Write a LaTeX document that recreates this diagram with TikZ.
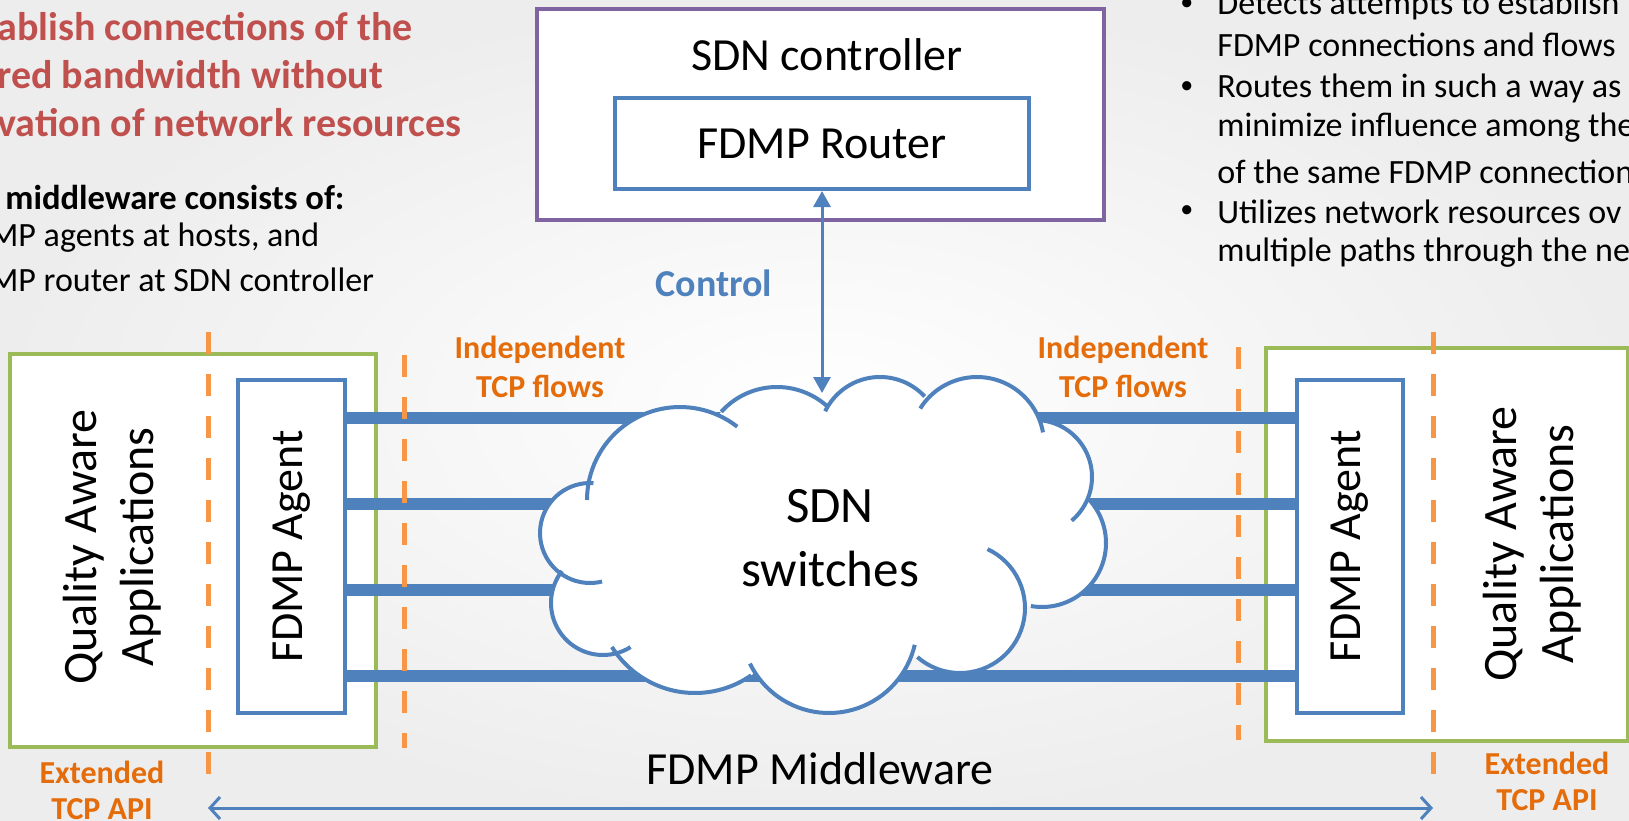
\documentclass[tikz,border=0pt]{standalone}
\usepackage{fontspec}
\setmainfont{Carlito}
\usetikzlibrary{arrows.meta, positioning, calc}
\definecolor{fdBlue}{HTML}{4F81BD}
\definecolor{fdGreen}{HTML}{9BBB59}
\definecolor{fdPurple}{HTML}{8064A2}
\definecolor{fdDash}{HTML}{F79646}
\definecolor{fdTag}{HTML}{E46C0A}
\definecolor{fdRed}{HTML}{C0504D}

\begin{document}
\begin{tikzpicture}[x=0.5pt, y=-0.5pt,
    agentbox/.style={draw=fdBlue, line width=2pt, fill=white, inner sep=0pt},
    hostbox/.style={draw=fdGreen, line width=2pt, fill=white, inner sep=0pt},
    apiline/.style={draw=fdDash, line width=2.5pt, dash pattern=on 11pt off 10pt},
    flow/.style={draw=fdBlue, line width=6pt},
    puff/.style={draw=fdBlue, line width=2pt},
    tag/.style={font=\fontsize{16}{19.5}\selectfont\bfseries, text=fdTag, align=center},
    big/.style={font=\fontsize{23}{28.5}\selectfont, align=center},
    note/.style={font=\fontsize{17}{20}\selectfont, anchor=west, inner sep=0pt}]
  \useasboundingbox (0,0) rectangle (1629,820);
  \clip (0,0) rectangle (1629,820);
  \shade[inner color=white, outer color=black!7] (0,0) rectangle (1629,820);

  \foreach \txt [count=\i] in {ablish connections of the, red bandwidth without,
      vation of network resources}
    \node[note, font=\fontsize{20}{22}\selectfont\bfseries, text=fdRed] at (-3, -21+\i*48) {\txt};
  \node[note, font=\fontsize{17.3}{20}\selectfont\bfseries] (mwhead) at (5,197) {middleware consists of:};
  \node[note] (mwa) at (-11,238) {MP agents at hosts, and};
  \node[note] (mwb) at (-11,280) {MP router at SDN controller};

  \foreach \txt/\y in {Detects attempts to establish/5, FDMP connections and flows/45,
      Routes them in such a way as/88, minimize influence among the/128,
      of the same FDMP connection/172, Utilizes network resources ov/212,
      multiple paths through the ne/253}
    \node[note] at (1217,\y) {\txt};
  \foreach \y in {5, 88, 212}
    \node[note, font=\fontsize{13}{15}\selectfont] at (1180,\y) {\textbullet};

  \node[draw=fdPurple, line width=2pt, fill=white, minimum width=283.5pt, minimum height=105.5pt] (ctrl) at (820.5,114.5) {};
  \node[big] (ctrltxt) at (827,55) {SDN controller};
  \node[agentbox, big, minimum width=207pt, minimum height=45.5pt] (router) at (822,143.5) {FDMP Router};

  \node[hostbox, minimum width=183pt, minimum height=196.5pt] (hostL) at (193,550.5) {};
  \node[hostbox, minimum width=181pt, minimum height=196.5pt] (hostR) at (1447,544.5) {};
  \node[agentbox, minimum width=53.5pt, minimum height=166.5pt] (agL) at (291.5,546.5) {};
  \node[agentbox, minimum width=53pt, minimum height=166.5pt] (agR) at (1350,546.5) {};
  \node[big, rotate=90] (agLtxt) at (agL) {FDMP Agent};
  \node[big, rotate=90] (agRtxt) at (agR) {FDMP Agent};
  \node[big, font=\fontsize{24}{28.5}\selectfont, rotate=90] (appL) at (112,547) {Quality Aware\\Applications};
  \node[big, font=\fontsize{24}{28.5}\selectfont, rotate=90] (appR) at (1532,544) {Quality Aware\\Applications};

  \foreach \dy in {-128.5, -42.5, 43.5, 129.5}
    \draw[flow] ($(agL.east)+(0,\dy)$) -- ($(agR.west)+(0,\dy)$);

  % cloud: puff circles (centre x/y, radius, drawn from/to angle)
  \fill[white] (822,545) ellipse[x radius=220, y radius=120];
  \foreach \cx/\cy/\r/\a/\b in {680/500/93/180/308, 777/462/75/222/312, 880/438/61/206/317,
      977/444/67/212/350, 1035/477/57/-85/50, 1042/543/64/-44/100, 960/608/65/-65/131,
      829/625/88/13/154, 695/595/98/55/148, 603/603/52/58/218, 590/533/50/76/274}
    \fill[white] (\cx,\cy) circle[radius=\r];
  \foreach \cx/\cy/\r/\a/\b in {680/500/93/180/308, 777/462/75/222/312, 880/438/61/206/317,
      977/444/67/212/350, 1035/477/57/-85/50, 1042/543/64/-44/100, 960/608/65/-65/131,
      829/625/88/13/154, 695/595/98/55/148, 603/603/52/58/218, 590/533/50/76/274}
    \draw[puff] plot[domain=\a:\b, samples=40] ({\cx+\r*cos(\x)}, {\cy+\r*sin(\x)});
  \node[big, font=\fontsize{25.5}{32}\selectfont] (swtxt) at (830,538) {SDN\\switches};

  \foreach \x/\ya/\yb in {208/332/793, 404/355/748, 1238/347/740, 1433/332/793}
    \draw[apiline] (\x,\ya) -- (\x,\yb);

  \coordinate (ctrlEnd) at (router.south |- 0,393);
  \draw[fdBlue, line width=1.5pt, {Triangle[length=8pt,width=8.5pt]}-{Triangle[length=8pt,width=8.5pt]}] (router.south) -- (ctrlEnd);
  \node[font=\fontsize{19}{22}\selectfont\bfseries, text=fdBlue] (ctrllbl) at (714,283) {Control};

  \node[tag] (tagL) at (540,367) {Independent\\TCP flows};
  \node[tag] (tagR) at (1123,367) {Independent\\TCP flows};
  \node[tag, font=\fontsize{16}{18}\selectfont\bfseries] (apiL) at (102,790) {Extended\\TCP API};
  \node[tag, font=\fontsize{16}{18}\selectfont\bfseries] (apiR) at (1547,781.5) {Extended\\TCP API};

  \node[big] (mwtxt) at (820,769) {FDMP Middleware};
  \coordinate (mwL) at (208,808);
  \coordinate (mwR) at (1433,808);
  \draw[fdBlue, line width=1.5pt, {Straight Barb[length=5pt,width=11pt]}-{Straight Barb[length=5pt,width=11pt]}] (mwL) -- (mwR);
\end{tikzpicture}
\end{document}
